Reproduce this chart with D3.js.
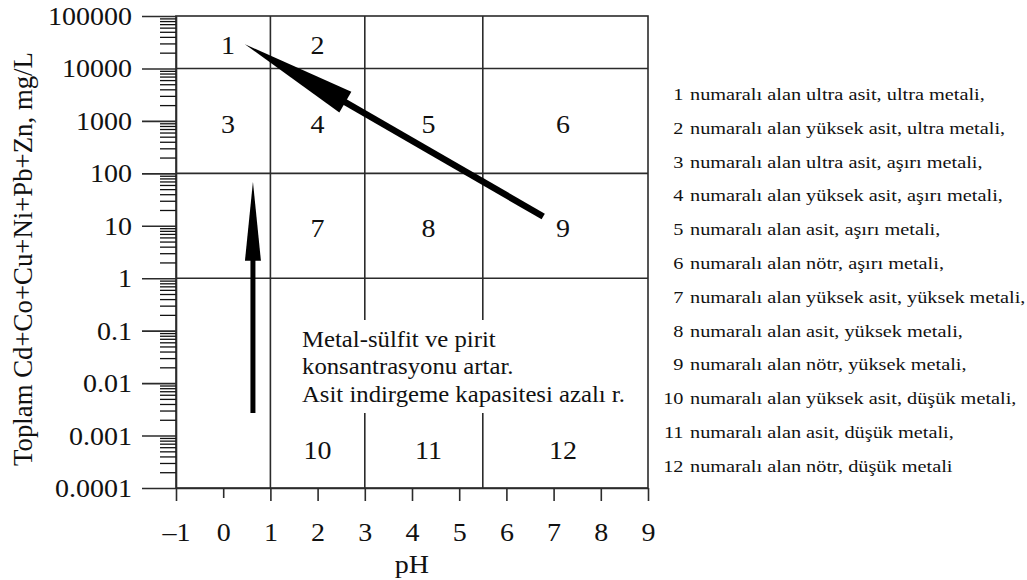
<!DOCTYPE html>
<html>
<head>
<meta charset="utf-8">
<script src="https://cdn.jsdelivr.net/npm/d3@7"></script>
<style>
  body { margin: 0; background: #fff; }
  svg { display: block; }
  text { font-family: "Liberation Serif", "Times New Roman", serif; fill: #111; }
</style>
</head>
<body>
<svg id="chart" width="1027" height="580"></svg>
<script>
// pH axis
const phTicks = [-1, 0, 1, 2, 3, 4, 5, 6, 7, 8, 9];
const phTickLabels = ["–1", "0", "1", "2", "3", "4", "5", "6", "7", "8", "9"];

// total dissolved metal axis (mg/L, log)
const concTicks = [100000, 10000, 1000, 100, 10, 1, 0.1, 0.01, 0.001, 0.0001];
const concTickLabels = ["100000", "10000", "1000", "100", "10", "1", "0.1", "0.01", "0.001", "0.0001"];

// class boundaries
const concBounds = [10000, 100, 1];
const phBounds = [1, 3, 5.5];
// interrupted part of each pH boundary (upper, lower concentration), null = continuous
const phBoundGaps = [null, [0.16, 0.0027], [0.16, 0.0027]];

// numbered fields
const regionIds = ["1", "2", "3", "4", "5", "6", "7", "8", "9", "10", "11", "12"];
const regionPh = [0.1, 2.0, 0.1, 2.0, 4.35, 7.2, 2.0, 4.35, 7.2, 2.0, 4.35, 7.2];
const regionConc = [27000, 27000, 870, 870, 870, 870, 9, 9, 9, 0.00053, 0.00053, 0.00053];

// trend arrows: tail -> head, as [pH, mg/L]
const trendFrom = [[6.78, 15], [0.63, 0.0027]];
const trendTo = [[0.46, 29000], [0.63, 69]];

// note inside the plot
const noteLines = ["Metal-sülfit ve pirit", "konsantrasyonu artar.", "Asit indirgeme kapasitesi azalı r."];
const notePh = 1.67;
const noteConc = 0.049;

// field descriptions
const legendNums = ["1", "2", "3", "4", "5", "6", "7", "8", "9", "10", "11", "12"];
const legendTexts = [
  "numaralı alan ultra asit, ultra metali,",
  "numaralı alan yüksek asit, ultra metali,",
  "numaralı alan ultra asit, aşırı metali,",
  "numaralı alan yüksek asit, aşırı metali,",
  "numaralı alan asit, aşırı metali,",
  "numaralı alan nötr, aşırı metali,",
  "numaralı alan yüksek asit, yüksek metali,",
  "numaralı alan asit, yüksek metali,",
  "numaralı alan nötr, yüksek metali,",
  "numaralı alan yüksek asit, düşük metali,",
  "numaralı alan asit, düşük metali,",
  "numaralı alan nötr, düşük metali"
];

const svg = d3.select("#chart");
const L = 176, R = 648, T = 16, B = 488;
const LINE = "#2b2b2b";

const x = d3.scaleLinear().domain([-1, 9]).range([L, R]);
const y = d3.scaleLog().domain([0.0001, 100000]).range([B, T]);

// widen glyphs horizontally (wide serif setting)
function stretch(sel, k) {
  sel.each(function () {
    const len = this.getComputedTextLength();
    this.setAttribute("textLength", len * k);
    this.setAttribute("lengthAdjust", "spacingAndGlyphs");
  });
}

// frame
svg.append("rect")
  .attr("x", L).attr("y", T).attr("width", R - L).attr("height", B - T)
  .attr("fill", "none").attr("stroke", LINE).attr("stroke-width", 1.6);

// horizontal class boundaries
svg.append("g").selectAll("line").data(concBounds).join("line")
  .attr("x1", x(-1)).attr("x2", x(9))
  .attr("y1", d => y(d)).attr("y2", d => y(d))
  .attr("stroke", LINE).attr("stroke-width", 1.6);

// vertical class boundaries
const vSegs = [];
phBounds.forEach((p, i) => {
  const g = phBoundGaps[i];
  if (!g) vSegs.push([p, 100000, 0.0001]);
  else { vSegs.push([p, 100000, g[0]]); vSegs.push([p, g[1], 0.0001]); }
});
svg.append("g").selectAll("line").data(vSegs).join("line")
  .attr("x1", d => x(d[0])).attr("x2", d => x(d[0]))
  .attr("y1", d => y(d[1])).attr("y2", d => y(d[2]))
  .attr("stroke", LINE).attr("stroke-width", 1.6);

// y axis: major and minor ticks
const minor = y.ticks(10).filter(v => !concTicks.some(c => Math.abs(Math.log10(v) - Math.log10(c)) < 1e-6));
const yMinor = svg.append("g").attr("transform", `translate(${L},0)`)
  .call(d3.axisLeft(y).tickValues(minor).tickSize(16).tickSizeOuter(0).tickFormat(""));
yMinor.select(".domain").remove();
yMinor.selectAll(".tick line").attr("stroke", "#111").attr("stroke-width", 1.3);

const yAxis = svg.append("g").attr("transform", `translate(${L},0)`)
  .call(d3.axisLeft(y).tickValues(concTicks).tickSize(34).tickSizeOuter(0)
    .tickPadding(10).tickFormat((d, i) => concTickLabels[i]));
yAxis.select(".domain").attr("stroke", LINE).attr("stroke-width", 1.6);
yAxis.selectAll(".tick line").attr("stroke", LINE).attr("stroke-width", 1.6);
const yLab = yAxis.selectAll(".tick text")
  .attr("font-size", 25).attr("fill", "#111").attr("font-family", null)
  .attr("dy", "0.34em");
stretch(yLab, 1.12);

// x axis
const xAxis = svg.append("g").attr("transform", `translate(0,${B})`)
  .call(d3.axisBottom(x).tickValues(phTicks).tickSize(13).tickSizeOuter(0)
    .tickFormat((d, i) => phTickLabels[i]));
xAxis.select(".domain").attr("stroke", LINE).attr("stroke-width", 1.6);
xAxis.selectAll(".tick line").attr("stroke", LINE).attr("stroke-width", 1.6)
  .attr("y2", d => d === 0 ? 10 : 13);
const xLab = xAxis.selectAll(".tick text")
  .attr("font-size", 25).attr("fill", "#111").attr("font-family", null)
  .attr("y", 53).attr("dy", 0);
stretch(xLab, 1.12);

// axis titles
const pH = svg.append("text").attr("x", x(4)).attr("y", 573)
  .attr("text-anchor", "middle").attr("font-size", 25).text("pH");
stretch(pH, 1.12);

svg.append("text")
  .attr("transform", `translate(32,${(T + B) / 2 + 7}) rotate(-90)`)
  .attr("text-anchor", "middle").attr("font-size", 26.8)
  .text("Toplam Cd+Co+Cu+Ni+Pb+Zn, mg/L");

// field numbers
const regLab = svg.append("g").selectAll("text").data(regionIds).join("text")
  .attr("x", (d, i) => x(regionPh[i]))
  .attr("y", (d, i) => y(regionConc[i]))
  .attr("dy", "0.34em")
  .attr("text-anchor", "middle").attr("font-size", 25).text(d => d);
stretch(regLab, 1.12);

// trend arrows
function drawArrow(from, to, shaftW, headL, headW) {
  const x0 = x(from[0]), y0 = y(from[1]), x1 = x(to[0]), y1 = y(to[1]);
  const len = Math.hypot(x1 - x0, y1 - y0);
  const ux = (x1 - x0) / len, uy = (y1 - y0) / len;
  const nx = -uy, ny = ux;
  const bx = x1 - ux * headL, by = y1 - uy * headL;
  svg.append("line")
    .attr("x1", x0).attr("y1", y0)
    .attr("x2", bx + ux * 4).attr("y2", by + uy * 4)
    .attr("stroke", "#000").attr("stroke-width", shaftW);
  const head = d3.path();
  head.moveTo(x1, y1);
  head.lineTo(bx + nx * headW / 2, by + ny * headW / 2);
  head.lineTo(bx - nx * headW / 2, by - ny * headW / 2);
  head.closePath();
  svg.append("path").attr("d", head.toString()).attr("fill", "#000");
}
drawArrow(trendFrom[0], trendTo[0], 6.5, 116, 24);
drawArrow(trendFrom[1], trendTo[1], 5, 79, 16);

// note
const note = svg.append("g").selectAll("text").data(noteLines).join("text")
  .attr("x", x(notePh))
  .attr("y", (d, i) => y(noteConc) + i * 27.5)
  .attr("font-size", 24).attr("fill", "#1a1a1a").text(d => d);
stretch(note, 1.03);

// field descriptions
const lg = svg.append("g").attr("transform", "translate(0,100)");
const lgNum = lg.selectAll("text.num").data(legendNums).join("text")
  .attr("class", "num")
  .attr("x", 683.5).attr("y", (d, i) => i * 33.8)
  .attr("text-anchor", "end").attr("font-size", 17.5).attr("fill", "#1a1a1a").text(d => d);
stretch(lgNum, 1.16);
const lgTxt = lg.selectAll("text.desc").data(legendTexts).join("text")
  .attr("class", "desc")
  .attr("x", 690).attr("y", (d, i) => i * 33.8)
  .attr("font-size", 17.5).attr("fill", "#1a1a1a").text(d => d);
stretch(lgTxt, 1.16);
</script>
</body>
</html>
